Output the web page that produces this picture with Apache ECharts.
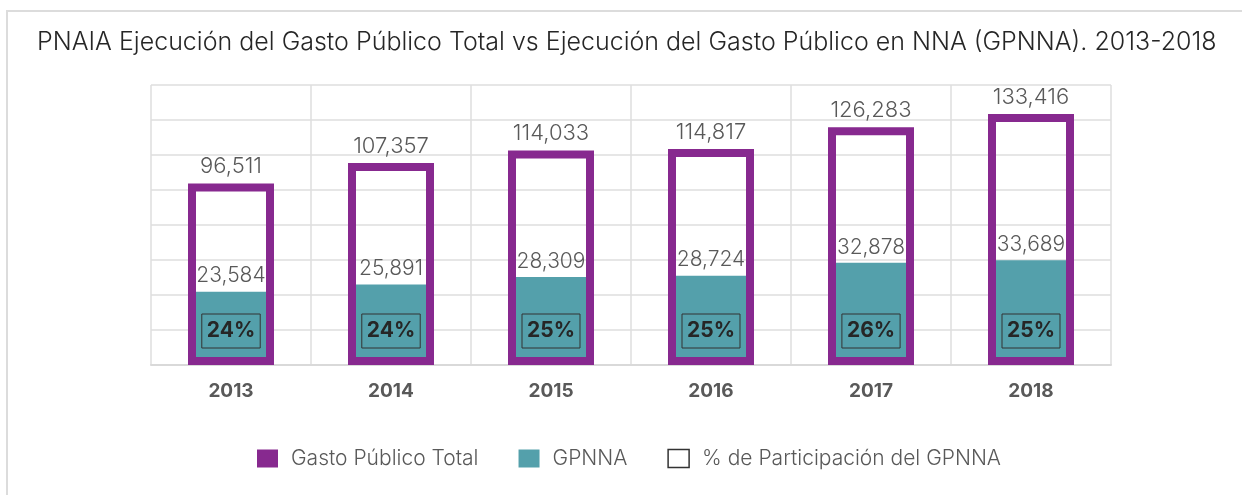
<!DOCTYPE html>
<html>
<head>
<meta charset="utf-8">
<script src="https://cdn.jsdelivr.net/npm/echarts@6/dist/echarts.min.js"></script>
<style>
  html, body { margin: 0; padding: 0; background: #fff; overflow: hidden; }
  #frame { position: absolute; left: 6px; top: 10px; width: 1400px; height: 700px; border: 2px solid #dcdcdc; box-sizing: border-box; }
  #chart { position: absolute; left: 0; top: 0; width: 1242px; height: 495px; }
</style>
</head>
<body>
<div id="frame"></div>
<div id="chart"></div>
<script>
const years = ['2013', '2014', '2015', '2016', '2017', '2018'];
const gastoTotal = [96511, 107357, 114033, 114817, 126283, 133416];
const gpnna = [23584, 25891, 28309, 28724, 32878, 33689];
const participacion = [24, 24, 25, 25, 26, 25];

const PURPLE = '#87298F';
const TEAL = '#54A0AB';
const GREY = '#595959';
const FONT = 'Inter';
const BAR_RATIO = 0.5375;
const fmt = v => Number(v).toLocaleString('en-US');

const chart = echarts.init(document.getElementById('chart'), null, { renderer: 'canvas' });

chart.setOption({
  animation: false,
  backgroundColor: 'transparent',
  title: {
    text: 'PNAIA Ejecución del Gasto Público Total vs Ejecución del Gasto Público en NNA (GPNNA). 2013-2018',
    left: 32, top: 25,
    textStyle: { fontFamily: FONT, fontWeight: 300, fontSize: 25, color: '#262626' }
  },
  legend: {
    left: 252, top: 443,
    itemWidth: 21, itemHeight: 18, itemGap: 40,
    selectedMode: false,
    textStyle: { fontFamily: FONT, fontWeight: 300, fontSize: 21, color: GREY, padding: [0, 0, 0, 8] },
    data: [
      { name: 'Gasto Público Total', icon: 'rect', itemStyle: { color: PURPLE, borderWidth: 0 } },
      { name: 'GPNNA', icon: 'rect', itemStyle: { color: TEAL, borderWidth: 0 } },
      { name: '% de Participación del GPNNA', icon: 'rect', itemStyle: { color: '#ffffff', borderColor: '#333333', borderWidth: 1.5 } }
    ]
  },
  grid: { left: 151, right: 131, top: 85, bottom: 130, show: false },
  xAxis: {
    type: 'category',
    data: years,
    axisTick: { show: false },
    axisLine: { show: true, lineStyle: { color: '#d9d9d9', width: 2 } },
    splitLine: { show: true, lineStyle: { color: '#dedede', width: 1.5 } },
    axisLabel: { fontFamily: FONT, fontWeight: 'bold', fontSize: 19, color: GREY, margin: 17 }
  },
  yAxis: [
    {
      type: 'value', min: 0, max: 148800, interval: 18600,
      axisLabel: { show: false }, axisLine: { show: false }, axisTick: { show: false },
      splitLine: { show: true, lineStyle: { color: '#dedede', width: 1.5 } }
    },
    {
      type: 'value', min: 0, max: 90000,
      axisLabel: { show: false }, axisLine: { show: false }, axisTick: { show: false },
      splitLine: { show: false }
    }
  ],
  series: [
    {
      name: 'GPNNA',
      type: 'bar',
      yAxisIndex: 1,
      barWidth: (BAR_RATIO * 100) + '%',
      data: gpnna,
      itemStyle: { color: TEAL },
      label: {
        show: true, position: 'top', distance: 5,
        fontFamily: FONT, fontWeight: 300, fontSize: 21, color: GREY,
        formatter: p => fmt(p.value)
      }
    },
    {
      name: 'Gasto Público Total',
      type: 'custom',
      yAxisIndex: 0,
      itemStyle: { color: PURPLE },
      data: gastoTotal.map((v, i) => [i, v]),
      encode: { x: 0, y: 1 },
      renderItem: (params, api) => {
        const i = api.value(0), v = api.value(1);
        const top = api.coord([i, v]);
        const base = api.coord([i, 0]);
        const w = api.size([1, 0])[0] * BAR_RATIO;
        const bw = 8;
        return {
          type: 'group',
          children: [
            {
              type: 'rect',
              shape: { x: top[0] - w / 2 + bw / 2, y: top[1] + bw / 2, width: w - bw, height: base[1] - top[1] - bw },
              style: { fill: null, stroke: PURPLE, lineWidth: bw }
            },
            {
              type: 'text',
              style: {
                text: fmt(v), x: top[0], y: top[1] - 6,
                align: 'center', verticalAlign: 'bottom',
                fill: GREY, font: '300 22px Inter'
              }
            }
          ]
        };
      },
      z: 3
    },
    {
      name: '% de Participación del GPNNA',
      type: 'custom',
      yAxisIndex: 0,
      itemStyle: { color: '#ffffff' },
      data: participacion.map((p, i) => [i, p]),
      encode: { x: 0, y: 1 },
      renderItem: (params, api) => {
        const i = api.value(0), p = api.value(1);
        const base = api.coord([i, 0]);
        return {
          type: 'text',
          style: {
            text: p + '%', x: base[0], y: base[1] - 34,
            align: 'center', verticalAlign: 'middle',
            fill: '#262626', font: 'bold 21px Inter',
            padding: [7, 5, 6, 5], borderColor: '#333333', borderWidth: 1
          }
        };
      },
      z: 4
    }
  ]
});
</script>
</body>
</html>
